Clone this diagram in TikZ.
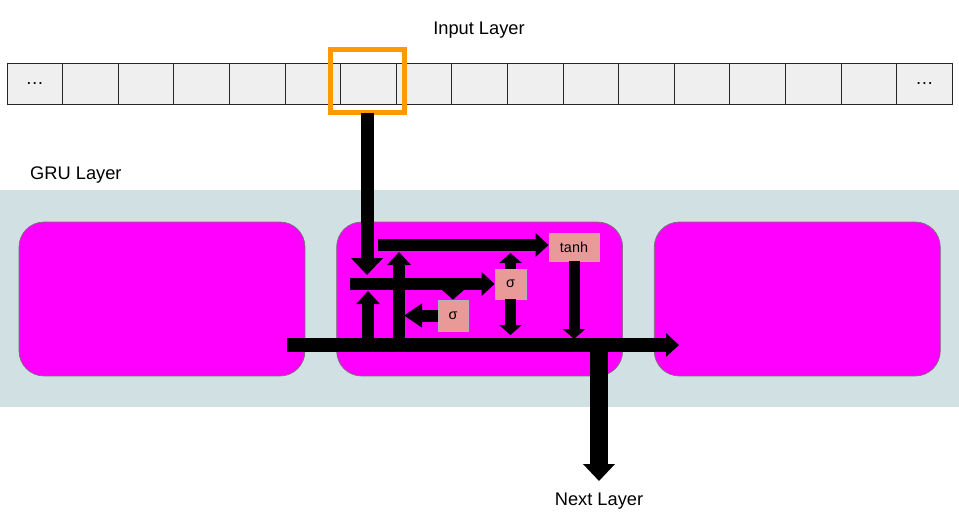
\documentclass[tikz,border=0pt]{standalone}
\usepackage{fontspec}
\setmainfont{Liberation Sans}
\usetikzlibrary{positioning,calc,arrows.meta}
\definecolor{cellgray}{HTML}{EFEFEF}
\definecolor{grublue}{HTML}{D0E0E3}
\definecolor{gatepink}{HTML}{EA9999}
\definecolor{selorange}{HTML}{FF9900}
\definecolor{grumag}{HTML}{FF00FF}

\begin{document}
\begin{tikzpicture}[x=0.02cm,y=-0.02cm,font=\fontsize{10.4}{12}\selectfont,
    cell/.style={draw=black!85,fill=cellgray,minimum width=1.112cm,minimum height=0.82cm,inner sep=0pt},
    grucell/.style={draw=black!55,fill=grumag,rounded corners=0.5cm,minimum width=5.72cm,minimum height=3.08cm},
    gate/.style={draw=black!30,fill=gatepink,inner sep=0pt,font=\fontsize{8.2}{10}\selectfont},
    flow/.style={line width=0.24cm,-{Triangle[length=0.26cm,width=0.46cm]}},
    bigflow/.style={line width=0.26cm,-{Triangle[length=0.34cm,width=0.62cm]}},
    tick/.style={line width=0.22cm,-{Triangle[length=0.2cm,width=0.44cm]}}]
    \useasboundingbox[fill=white] (0,0) rectangle (959,525);
    % input sequence
    \node (inlab) at (479,30) {Input Layer};
    \foreach \i in {1,...,17}
      \node[cell] (c\i) at ({7+55.6*(\i-0.5)},83.5) {};
    \node at (c1) {\dots};
    \node at (c17) {\dots};
    \node[draw=black!40!selorange,double=selorange,double distance=0.09cm,minimum width=1.48cm,minimum height=1.26cm] (sel) at (367.5,81) {};
    % recurrent layer
    \node[fill=grublue,minimum width=19.18cm,minimum height=4.34cm,inner sep=0pt] (band) at (479.5,298.5) {};
    \node[anchor=west] (grulab) at (24,175) {GRU Layer};
    \node[grucell] (g1) at (162,299) {};
    \node[grucell,right=0.62cm of g1] (g2) {};
    \node[grucell,right=0.62cm of g2] (g3) {};
    \node[gate,minimum width=1.0cm,minimum height=0.56cm] (tanh) at (574,247) {tanh};
    \node[gate,minimum width=0.62cm,minimum height=0.6cm] (sigA) at (510.5,284) {σ};
    \node[gate,minimum width=0.6cm,minimum height=0.62cm] (sigB) at (453,315.5) {σ};
    \node (nxt) at (599,501) {Next Layer};
    % junction points
    \coordinate (busL) at (287,345);
    \coordinate (busR) at (679,345);
    \coordinate (inTip) at (367,275);
    \coordinate (topL) at (378,245);
    \coordinate (midL) at (350,284);
    \coordinate (upA) at (399,252);
    \coordinate (upB) at (368,291);
    \coordinate (hTip) at (404,316);
    \coordinate (zTop) at (510.5,253);
    \coordinate (zBot) at (510.5,335);
    \coordinate (cTip) at (574,339);
    \coordinate (outTop) at (599,345);
    \coordinate (outTip) at (599,481);
    % flows
    \draw[bigflow] (sel.south -| inTip) -- (inTip);
    \draw[flow] (topL) -- (topL -| tanh.west);
    \draw[flow] (midL) -- (midL -| sigA.west);
    \draw[flow] (upB |- busL) -- (upB);
    \draw[flow] (upA |- busL) -- (upA);
    \draw[tick] (sigB.north |- midL) -- (sigB.north);
    \draw[flow,-{Triangle[length=0.36cm,width=0.46cm]}] (sigB.west) -- (sigB.west -| hTip);
    \draw[tick] (sigA.north) -- (zTop);
    \draw[tick] (sigA.south) -- (zBot);
    \draw[tick] (tanh.south) -- (cTip);
    \draw[flow,line width=0.28cm] (busL) -- (busR);
    \draw[bigflow,line width=0.36cm] (outTop) -- (outTip);
  \end{tikzpicture}
\end{document}
